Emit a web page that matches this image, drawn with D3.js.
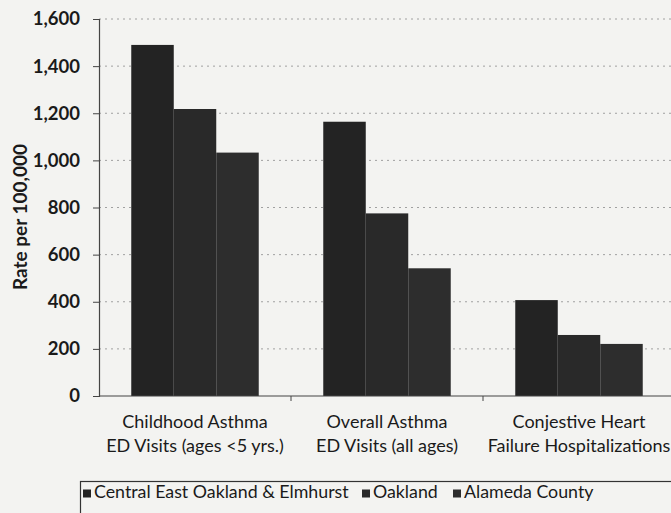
<!DOCTYPE html>
<html>
<head>
<meta charset="utf-8">
<script src="https://cdn.jsdelivr.net/npm/d3@7"></script>
<style>
  html, body { margin: 0; padding: 0; background: #f3f3f1; }
  svg { display: block; }
  text { font-family: Lato, "Open Sans", sans-serif; fill: #1a1a1a; }
</style>
</head>
<body>
<svg id="chart" width="671" height="513"></svg>
<script>
const categories = [
  ["Childhood Asthma", "ED Visits (ages <5 yrs.)"],
  ["Overall Asthma", "ED Visits (all ages)"],
  ["Conjestive Heart", "Failure Hospitalizations"]
];
const seriesNames = ["Central East Oakland & Elmhurst", "Oakland", "Alameda County"];
const centralEastOakland = [1490, 1164, 407];
const oakland = [1218, 775, 259];
const alamedaCounty = [1033, 542, 221];
const yTicks = [0, 200, 400, 600, 800, 1000, 1200, 1400, 1600];
const yTitle = "Rate per 100,000";
const colors = ["#232323", "#292929", "#2d2d2d"];

const seriesValues = [centralEastOakland, oakland, alamedaCounty];
const catKeys = categories.map((c, i) => i);

const svg = d3.select("#chart");
svg.append("rect").attr("width", 671).attr("height", 513).attr("fill", "#f3f3f1");

const mLeft = 99, mRight = 675, mTop = 19, mBottom = 396;

const y = d3.scaleLinear().domain([0, 1600]).range([mBottom, mTop]);
const x0 = d3.scaleBand().domain(catKeys).range([mLeft, mRight]).paddingInner(0.336).paddingOuter(0.168);
const x1 = d3.scaleBand().domain(seriesNames).range([0, x0.bandwidth()]).padding(0);

// gridlines
svg.append("g")
  .selectAll("line")
  .data(yTicks.filter(d => d > 0))
  .join("line")
  .attr("x1", mLeft).attr("x2", 671)
  .attr("y1", d => y(d)).attr("y2", d => y(d))
  .attr("stroke", "#a0a0a0")
  .attr("stroke-width", 1)
  .attr("stroke-dasharray", "2,4");

// bars
const groups = svg.append("g")
  .selectAll("g")
  .data(catKeys)
  .join("g")
  .attr("transform", d => `translate(${x0(d)},0)`);

groups.selectAll("rect")
  .data(ci => seriesNames.map((s, si) => ({ s, si, v: seriesValues[si][ci] })))
  .join("rect")
  .attr("x", d => x1(d.s))
  .attr("width", x1.bandwidth())
  .attr("y", d => y(d.v))
  .attr("height", d => y(0) - y(d.v))
  .attr("fill", d => colors[d.si]);

// y axis
const yAxis = d3.axisLeft(y).tickValues(yTicks).tickSize(6).tickPadding(13)
  .tickFormat(d3.format(","));
const yg = svg.append("g").attr("transform", `translate(${mLeft},0)`).call(yAxis);
yg.select(".domain").attr("stroke", "#444").attr("stroke-width", 1.2);
yg.selectAll(".tick line").attr("stroke", "#444");
yg.selectAll(".tick text")
  .style("font-size", "18.5px").style("font-weight", "700").attr("fill", "#1a1a1a");

// x axis
svg.append("line")
  .attr("x1", mLeft).attr("x2", 671)
  .attr("y1", mBottom).attr("y2", mBottom)
  .attr("stroke", "#444").attr("stroke-width", 1.2);
const boundaries = [x0.step(), x0.step() * 2].map(s => mLeft + s);
svg.append("g").selectAll("line")
  .data(boundaries)
  .join("line")
  .attr("x1", d => d).attr("x2", d => d)
  .attr("y1", mBottom).attr("y2", mBottom + 5)
  .attr("stroke", "#444");

// x labels
const xl = svg.append("g").selectAll("text")
  .data(catKeys)
  .join("text")
  .attr("text-anchor", "middle")
  .attr("x", d => x0(d) + x0.bandwidth() / 2)
  .attr("y", 428)
  .style("font-size", "18px");
xl.selectAll("tspan")
  .data(d => categories[d])
  .join("tspan")
  .attr("x", function() { return this.parentNode.getAttribute("x"); })
  .attr("dy", (d, i) => i === 0 ? 0 : 23.5)
  .text(d => d);

// y title
svg.append("text")
  .attr("transform", `translate(27,217) rotate(-90)`)
  .attr("text-anchor", "middle")
  .style("font-size", "19px").style("font-weight", "700")
  .text(yTitle);

// legend
svg.append("rect")
  .attr("x", 80.5).attr("y", 481.5).attr("width", 640).attr("height", 60)
  .attr("fill", "none").attr("stroke", "#333").attr("stroke-width", 1.2);

const legendX = [83, 362, 453];
const lg = svg.append("g").selectAll("g")
  .data(seriesNames)
  .join("g")
  .attr("transform", (d, i) => `translate(${legendX[i]},0)`);
lg.append("rect").attr("x", 0).attr("y", 489.5).attr("width", 8).attr("height", 8)
  .attr("fill", (d, i) => colors[i]);
lg.append("text").attr("x", 11).attr("y", 498).style("font-size", "17.8px").text(d => d);
</script>
</body>
</html>
